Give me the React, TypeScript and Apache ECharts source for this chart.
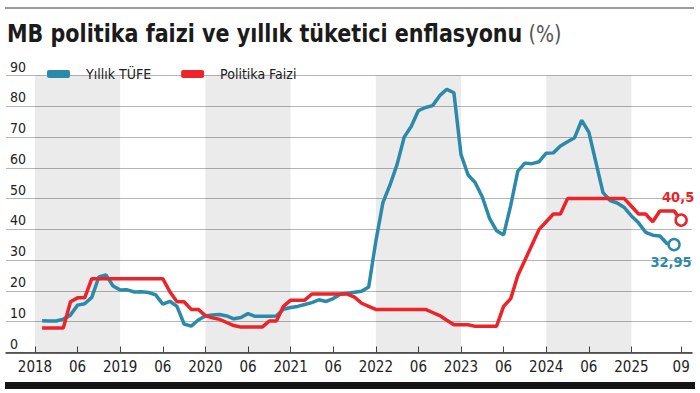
import React, { useEffect, useRef } from "react";
import * as echarts from "echarts";

const TITLE = "MB politika faizi ve yıllık tüketici enflasyonu";
const TITLE_UNIT = "(%)";
const SERIES_NAMES = ["Yıllık TÜFE", "Politika Faizi"];

// Monthly values, Jan 2018 onward
const TUFE = [
  10.35, 10.26, 10.23, 10.85, 12.15, 15.39, 15.85, 17.9, 24.52, 25.24, 21.62, 20.3,
  20.35, 19.67, 19.71, 19.5, 18.71, 15.72, 16.65, 15.01, 9.26, 8.55, 10.56, 11.84,
  12.15, 12.37, 11.86, 10.94, 11.39, 12.62, 11.76, 11.77, 11.75, 11.89, 14.03, 14.6,
  14.97, 15.61, 16.19, 17.14, 16.59, 17.53, 18.95, 19.25, 19.58, 19.89, 21.31, 36.08,
  48.69, 54.44, 61.14, 69.97, 73.5, 78.62, 79.6, 80.21, 83.45, 85.51, 84.39, 64.27,
  57.68, 55.18, 50.51, 43.68, 39.59, 38.21, 47.83, 58.94, 61.53, 61.36, 61.98, 64.77,
  64.86, 67.07, 68.5, 69.8, 75.45, 71.6, 61.78, 51.97, 49.38, 48.58, 47.09, 44.38,
  42.12, 39.05, 38.1, 37.86, 35.41, 35.05,
];
const FAIZ = [
  8, 8, 8, 8, 16.5, 17.75, 17.75, 24, 24, 24, 24, 24,
  24, 24, 24, 24, 24, 24, 19.75, 16.5, 16.5, 14, 14, 12,
  11.25, 10.75, 9.75, 8.75, 8.25, 8.25, 8.25, 8.25, 10.25, 10.25, 15, 17,
  17, 17, 19, 19, 19, 19, 19, 19, 18, 16, 15, 14,
  14, 14, 14, 14, 14, 14, 14, 13, 12, 10.5, 9, 9,
  9, 8.5, 8.5, 8.5, 8.5, 15, 17.5, 25, 30, 35, 40, 42.5,
  45, 45, 50, 50, 50, 50, 50, 50, 50, 50, 50, 47.5,
  45, 45, 42.5, 46, 46, 46, 43,
];
const END_LABELS = ["32,95", "40,5"];

const TICK_MONTHS = [0, 6, 12, 18, 24, 30, 36, 42, 48, 54, 60, 66, 72, 78, 84, 91];
const TICK_LABELS = ["2018", "06", "2019", "06", "2020", "06", "2021", "06", "2022", "06", "2023", "06", "2024", "06", "2025", "09"];
const SHADED = [[0, 12], [24, 36], [48, 60], [72, 84]];

const TEAL = "#2b8aa9";
const RED = "#ec2329";
const FONT = "'Liberation Sans Narrow', 'DejaVu Sans Condensed', 'Roboto Condensed', sans-serif";

function buildPoints(values: number[], color: string, label: string, pos: string) {
  return values.map((v, i) => {
    if (i === values.length - 1) {
      return {
        value: [i + 1, v],
        symbol: "circle",
        symbolSize: 11,
        itemStyle: { color: "#fff", borderColor: color, borderWidth: 2.5 },
        label: {
          show: true,
          formatter: label,
          position: pos,
          distance: pos === "top" ? 9 : 3,
          offset: [-3, 0],
          color,
          fontFamily: FONT,
          fontWeight: "bold",
          fontSize: 14.5,
        },
      };
    }
    return { value: [i + 1, v], symbol: "none" };
  });
}

export default function App() {
  const ref = useRef<HTMLDivElement>(null);
  useEffect(() => {
    if (!ref.current) return;
    const chart = echarts.init(ref.current, null, { renderer: "svg" });
    chart.setOption({
      animation: false,
      backgroundColor: "#fff",
      legend: {
        data: SERIES_NAMES,
        left: 42,
        top: 62,
        icon: "roundRect",
        itemWidth: 23,
        itemHeight: 8,
        itemGap: 30,
        textStyle: { fontFamily: FONT, fontSize: 14, color: "#222", padding: [0, 0, 0, 11] },
      },
      graphic: [
        { type: "line", shape: { x1: 5, y1: 8, x2: 694, y2: 8 }, style: { stroke: "#9a9a9a", lineWidth: 2 } },
        { type: "rect", shape: { x: 5, y: 382, width: 690, height: 7 }, style: { fill: "#151515" } },
        {
          type: "text",
          x: 7,
          y: 21,
          scaleX: 0.92,
          style: {
            text: `{b|${TITLE}}  {n|${TITLE_UNIT}}`,
            verticalAlign: "top",
            rich: {
              b: { fontFamily: FONT, fontSize: 25, fontWeight: "bold", fill: "#1b1b1b" },
              n: { fontFamily: FONT, fontSize: 23, fill: "#555" },
            },
          },
        },
      ],
      grid: { left: 6, right: 8, top: 75.5, bottom: 40.5 },
      xAxis: {
        type: "value",
        min: -4.08,
        max: 92.53,
        splitLine: { show: false },
        axisLine: { show: true, lineStyle: { color: "#333", width: 1.5 } },
        axisTick: {
          show: true,
          inside: true,
          length: 6,
          customValues: TICK_MONTHS,
          lineStyle: { color: "#444", width: 1 },
        },
        axisLabel: {
          customValues: TICK_MONTHS,
          formatter: (v: number) => {
            const i = TICK_MONTHS.indexOf(Math.round(v));
            return i >= 0 ? TICK_LABELS[i] : "";
          },
          fontFamily: FONT,
          fontSize: 15,
          color: "#222",
          margin: 7,
        },
      },
      yAxis: {
        type: "value",
        min: 0,
        max: 90,
        interval: 10,
        axisLine: { show: false },
        axisTick: { show: false },
        splitLine: { lineStyle: { color: "#b5b5b5", width: 1 } },
        axisLabel: {
          inside: true,
          margin: 4,
          verticalAlign: "bottom",
          padding: [0, 0, 2, 0],
          fontFamily: FONT,
          fontSize: 14,
          color: "#222",
        },
      },
      series: [
        {
          type: "line",
          name: "bands",
          data: [],
          z: 1,
          silent: true,
          markArea: {
            silent: true,
            itemStyle: { color: "rgba(0,0,0,0.08)" },
            data: SHADED.map(([a, b]) => [{ xAxis: a, yAxis: 0 }, { xAxis: b, yAxis: 90 }]),
          },
        },
        {
          type: "line",
          name: SERIES_NAMES[0],
          color: TEAL,
          z: 3,
          symbol: "circle",
          showSymbol: true,
          showAllSymbol: true,
          lineStyle: { width: 3.5, color: TEAL },
          data: buildPoints(TUFE, TEAL, END_LABELS[0], "bottom"),
        },
        {
          type: "line",
          name: SERIES_NAMES[1],
          color: RED,
          z: 3,
          symbol: "circle",
          showSymbol: true,
          showAllSymbol: true,
          lineStyle: { width: 3.5, color: RED },
          data: buildPoints(FAIZ, RED, END_LABELS[1], "top"),
        },
      ],
    });
    return () => chart.dispose();
  }, []);
  return (
    <div
      ref={ref}
      style={{ position: "absolute", left: 0, top: 0, width: 700, height: 393 }}
    />
  );
}
